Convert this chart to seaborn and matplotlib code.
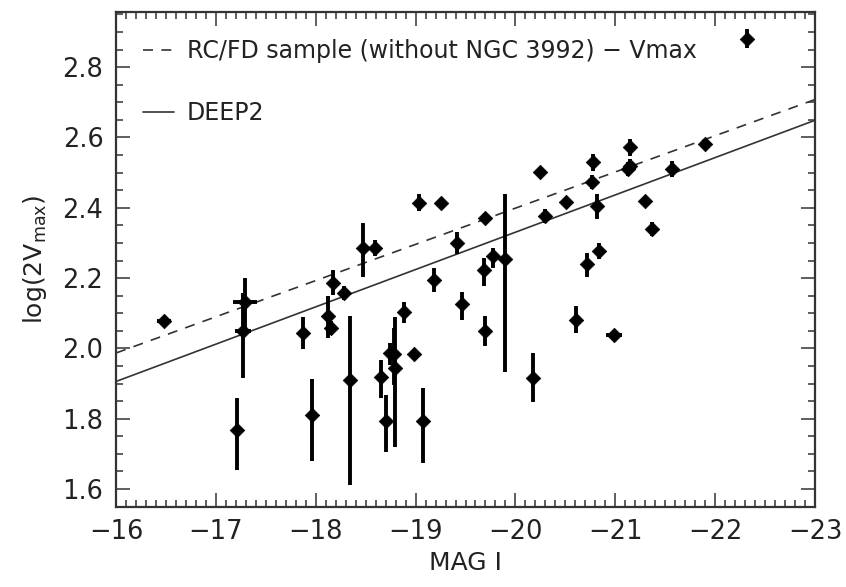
import numpy as np
import pandas as pd
import matplotlib
matplotlib.use("Agg")
import matplotlib.pyplot as plt
import seaborn as sns
from matplotlib.ticker import MultipleLocator

# ---- data ----
mag = [-16.48, -17.21, -17.29, -17.27, -17.87, -17.96, -18.12, -18.15, -18.17, -18.28,
       -18.47, -18.59, -18.34, -18.65, -18.70, -18.74, -18.78, -18.79, -18.88, -18.98,
       -19.07, -19.18, -19.03, -19.25, -19.41, -19.46, -19.70, -19.69, -19.70, -19.78,
       -19.90, -20.18, -20.25, -20.30, -20.51, -20.61, -20.72, -20.77, -20.78, -20.82,
       -20.84, -20.99, -21.13, -21.15, -21.15, -21.30, -21.37, -21.57, -21.90, -22.32]
logv = [2.077, 1.768, 2.132, 2.051, 2.044, 1.812, 2.093, 2.058, 2.187, 2.158,
        2.287, 2.287, 1.911, 1.920, 1.794, 1.987, 1.985, 1.944, 2.103, 1.985,
        1.794, 2.196, 2.415, 2.415, 2.301, 2.125, 2.372, 2.222, 2.051, 2.263,
        2.253, 1.915, 2.503, 2.377, 2.417, 2.082, 2.239, 2.474, 2.529, 2.406,
        2.277, 2.039, 2.510, 2.572, 2.520, 2.420, 2.339, 2.510, 2.582, 2.880]
err_lo = [0.010, 0.113, 0.084, 0.136, 0.045, 0.131, 0.064, 0.020, 0.035, 0.020,
          0.084, 0.025, 0.300, 0.060, 0.088, 0.034, 0.089, 0.224, 0.031, 0.010,
          0.120, 0.035, 0.025, 0.012, 0.032, 0.043, 0.012, 0.045, 0.045, 0.034,
          0.320, 0.066, 0.008, 0.020, 0.010, 0.038, 0.036, 0.020, 0.023, 0.038,
          0.024, 0.010, 0.020, 0.025, 0.020, 0.010, 0.020, 0.022, 0.010, 0.025]
err_hi = [0.010, 0.090, 0.069, 0.106, 0.044, 0.100, 0.056, 0.020, 0.035, 0.020,
          0.071, 0.020, 0.180, 0.048, 0.074, 0.028, 0.073, 0.145, 0.028, 0.010,
          0.093, 0.033, 0.025, 0.012, 0.030, 0.036, 0.012, 0.036, 0.040, 0.024,
          0.186, 0.072, 0.008, 0.020, 0.010, 0.038, 0.033, 0.020, 0.024, 0.033,
          0.024, 0.010, 0.020, 0.025, 0.020, 0.010, 0.020, 0.022, 0.010, 0.028]
mag_err = [0.07, 0, 0.12, 0.08, 0, 0, 0, 0, 0, 0,
           0, 0, 0, 0, 0, 0, 0, 0, 0, 0,
           0, 0, 0, 0, 0, 0, 0, 0, 0, 0,
           0, 0, 0, 0, 0, 0, 0, 0, 0, 0,
           0, 0.08, 0, 0, 0, 0, 0, 0, 0, 0]

fit_x = [-16, -23]
rcfd_y = [1.987, 2.708]
deep2_y = [1.906, 2.649]
legend_labels = ["RC/FD sample (without NGC 3992) \u2212 Vmax", "DEEP2"]

df = pd.DataFrame({"mag": mag, "logv": logv})
fits = pd.DataFrame({"x": fit_x * 2,
                     "y": rcfd_y + deep2_y,
                     "fit": [legend_labels[0]] * 2 + [legend_labels[1]] * 2})

# ---- style ----
sns.set_theme(style="ticks")
plt.rcParams["font.family"] = ["DejaVu Sans"]
plt.rcParams["mathtext.default"] = "regular"
ink = "#222222"

fig = plt.figure(figsize=(8.46, 5.87), dpi=100)
ax = fig.add_axes([0.1371, 0.1363, 0.8263, 0.8433])

sns.lineplot(data=fits, x="x", y="y", style="fit", color="#333333",
             dashes={legend_labels[0]: (6, 5), legend_labels[1]: ""},
             linewidth=1.2, ax=ax, legend=True)

ax.errorbar(mag, logv, yerr=[err_lo, err_hi], xerr=mag_err, fmt="none",
            ecolor="black", elinewidth=2.8, capsize=0, zorder=3)
sns.scatterplot(data=df, x="mag", y="logv", marker="D", s=55, color="black",
                edgecolor="black", linewidth=0.5, ax=ax, zorder=4, legend=False)

ax.set_xlim(-16, -23)
ax.set_ylim(1.549, 2.957)
ax.xaxis.set_major_locator(MultipleLocator(1))
ax.xaxis.set_minor_locator(MultipleLocator(0.1))
ax.yaxis.set_major_locator(MultipleLocator(0.2))
ax.yaxis.set_minor_locator(MultipleLocator(0.05))
ax.xaxis.set_major_formatter(matplotlib.ticker.FuncFormatter(
    lambda v, p: ("\u2212%d" % abs(v)) if v < 0 else "%d" % v))
ax.yaxis.set_major_formatter(matplotlib.ticker.FormatStrFormatter("%.1f"))
ax.tick_params(which="both", direction="in", top=True, right=True,
               colors="#333333", labelcolor=ink, width=1.1)
ax.tick_params(which="major", length=10, labelsize=18.5, pad=9)
ax.tick_params(which="minor", length=5)
for s in ax.spines.values():
    s.set_linewidth(1.6)
    s.set_color("#333333")

ax.set_xlabel("MAG I", fontsize=18, color=ink, labelpad=4)
ax.set_ylabel("log(2V$_{max}$)", fontsize=18, color=ink, labelpad=10)

leg = ax.legend(loc="upper left", frameon=False, fontsize=17,
                handlelength=1.3, handletextpad=0.55, labelspacing=1.6,
                borderaxespad=0.75, borderpad=0.4)
for t in leg.get_texts():
    t.set_color(ink)

fig.savefig("out.png", dpi=100)
